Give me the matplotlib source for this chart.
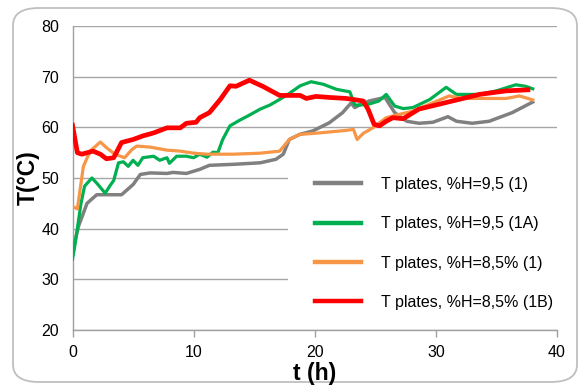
import matplotlib
matplotlib.use("Agg")
import matplotlib.pyplot as plt
from matplotlib.patches import FancyBboxPatch, Rectangle

plt.rcParams['font.family'] = ['Liberation Sans', 'DejaVu Sans']

# ---- data ----
labels = ["T plates, %H=9,5 (1)", "T plates, %H=9,5 (1A)",
          "T plates, %H=8,5% (1)", "T plates, %H=8,5% (1B)"]

t_gray = [0, 0.5, 1.2, 2.0, 2.8, 4.05, 5.0, 5.6, 6.4, 7.8, 8.3, 9.4, 10.5, 11.3, 13.3,
          15.5, 16.8, 17.4, 17.9, 18.75, 19.85, 21.2, 22.3, 23.0, 23.3, 23.7, 24.5, 25.8,
          26.6, 27.6, 28.6, 29.75, 31.0, 31.7, 33.0, 34.4, 36.3, 38.0]
T_gray = [35.5, 40.5, 45, 46.7, 46.7, 46.7, 48.7, 50.7, 51, 50.9, 51.1, 50.9, 51.7, 52.5, 52.7,
          53, 53.7, 54.7, 57.6, 58.6, 59.3, 60.9, 62.9, 64.8, 63.9, 64.4, 65.2, 65.9,
          62.9, 61.2, 60.8, 61, 62.1, 61.2, 60.8, 61.2, 62.9, 65]

t_green = [0, 0.15, 0.4, 0.7, 1.0, 1.6, 2.0, 2.7, 3.1, 3.4, 3.8, 4.2, 4.6, 5.0, 5.4, 5.8,
           6.7, 7.2, 7.8, 8.0, 8.6, 9.4, 10.0, 10.5, 11.1, 11.6, 12.0, 12.4, 13.0, 13.8,
           14.6, 15.5, 16.3, 17.1, 17.9, 18.8, 19.7, 20.7, 21.8, 22.9, 23.3, 23.7, 24.5,
           25.3, 25.9, 26.6, 27.3, 28.1, 29.5, 30.85, 31.7, 33.6, 35.0, 36.6, 37.4, 38.0]
T_green = [34, 36, 40, 45, 48.4, 50, 49, 47, 48.5, 49.5, 53, 53.2, 52.3, 53.5, 52.5, 54,
           54.3, 53.5, 54, 52.9, 54.3, 54.3, 54, 54.7, 54.1, 55.1, 55, 57.6, 60.3, 61.4,
           62.4, 63.6, 64.4, 65.5, 66.7, 68.2, 69, 68.5, 67.5, 67, 64.4, 64.4, 64.6,
           65.2, 66.5, 64.2, 63.7, 63.9, 65.5, 67.9, 66.5, 66.5, 67.2, 68.4, 68.1, 67.6]

t_orange = [0, 0.4, 0.9, 1.45, 2.3, 2.8, 3.5, 4.3, 4.9, 5.3, 6.4, 7.8, 8.9, 10.0, 11.1,
            13.3, 15.5, 17.1, 17.9, 18.75, 20.4, 22.6, 23.2, 23.5, 24.0, 24.8, 25.9, 26.7,
            28.1, 29.5, 31.1, 32.2, 34.1, 35.8, 36.9, 38.0]
T_orange = [44.4, 43.9, 52.3, 55.3, 57.1, 56, 54.7, 54, 55.6, 56.3, 56.1, 55.5, 55.3, 54.9, 54.7,
            54.7, 54.9, 55.3, 57.6, 58.6, 58.9, 59.4, 59.6, 57.6, 58.8, 59.9, 61.9, 62.4,
            63.2, 64.6, 66.2, 65.7, 65.7, 65.7, 66.2, 65.4]

t_red = [0, 0.4, 0.76, 1.7, 2.3, 2.8, 3.4, 4.05, 5.0, 5.8, 6.7, 7.8, 8.9, 9.4, 10.2, 10.5,
         11.3, 12.2, 13.0, 13.5, 14.6, 15.7, 17.1, 18.8, 19.3, 20.1, 21.2, 22.6, 24.0,
         24.4, 24.9, 25.35, 25.9, 26.45, 27.3, 28.6, 30.85, 33.6, 35.8, 37.6]
T_red = [60.4, 55, 54.7, 55.3, 54.7, 53.8, 54, 57, 57.6, 58.3, 58.9, 59.9, 59.9, 60.8, 61.0, 61.9,
         62.9, 65.5, 68.2, 68.1, 69.3, 68.1, 66.3, 66.3, 65.7, 66.1, 65.9, 65.7, 65.2,
         63.6, 60.6, 60.3, 61.2, 61.9, 61.7, 63.6, 64.9, 66.5, 67.2, 67.4]

x_ticks = [0, 10, 20, 30, 40]
y_ticks = [20, 30, 40, 50, 60, 70, 80]

W, H = 582, 385
fig = plt.figure(figsize=(W / 100, H / 100), dpi=100)
ax = fig.add_axes([72.5 / W, 1 - 330 / H, (557 - 72.5) / W, (330 - 26) / H])

# rounded chart border
border = FancyBboxPatch((13 / W, 1 - 382 / H), (577 - 13) / W, (382 - 8) / H,
                        boxstyle="round,pad=0,rounding_size=0.045",
                        transform=fig.transFigure, facecolor='white',
                        edgecolor='#BFBFBF', linewidth=1.3, zorder=-10)
fig.patches.append(border)

colors = ['#808080', '#00B050', '#F79646', '#FF0000']
lws = [2.5, 2.3, 2.3, 3.4]
series = [(t_gray, T_gray), (t_green, T_green), (t_orange, T_orange), (t_red, T_red)]
for (tx, ty), c, lw, lab in zip(series, colors, lws, labels):
    ax.plot(tx, ty, color=c, lw=lw, label=lab, solid_joinstyle='round', zorder=3)

ax.set_xlim(0, 40)
ax.set_ylim(20, 80)
ax.set_xticks(x_ticks)
ax.set_yticks(y_ticks)
ax.set_axisbelow(True)
ax.grid(axis='y', color='#A6A6A6', lw=1.0, zorder=0.5)
for s in ['top', 'right']:
    ax.spines[s].set_visible(False)
for s in ['left', 'bottom']:
    ax.spines[s].set_color('#A0A0A0')
    ax.spines[s].set_linewidth(1.0)
ax.tick_params(axis='y', length=0, pad=9.5, labelsize=11.5, colors='#000000')
ax.tick_params(axis='x', length=5, width=1.0, color='#A0A0A0', pad=6, labelsize=11.5,
               labelcolor='#000000', direction='out')
ax.set_xlabel('t (h)', fontsize=16.5, fontweight='bold', labelpad=1)
ax.set_ylabel('T(°C)', fontsize=16.5, fontweight='bold', labelpad=1)

# white legend area hiding gridlines
rect = Rectangle((288 / W, 1 - 322 / H), (560 - 288) / W, (322 - 145) / H,
                 transform=fig.transFigure, facecolor='white', edgecolor='none',
                 zorder=1, clip_on=False)
ax.add_patch(rect)

leg = ax.legend(loc='upper left', bbox_to_anchor=(315 / W, 1 - 177 / H),
                bbox_transform=fig.transFigure, frameon=False, fontsize=11.5,
                handlelength=2.9, handletextpad=1.25, labelspacing=1.52,
                borderpad=0, borderaxespad=0)
for line in leg.get_lines():
    line.set_linewidth(3.2)

fig.savefig('out.png', dpi=100)
